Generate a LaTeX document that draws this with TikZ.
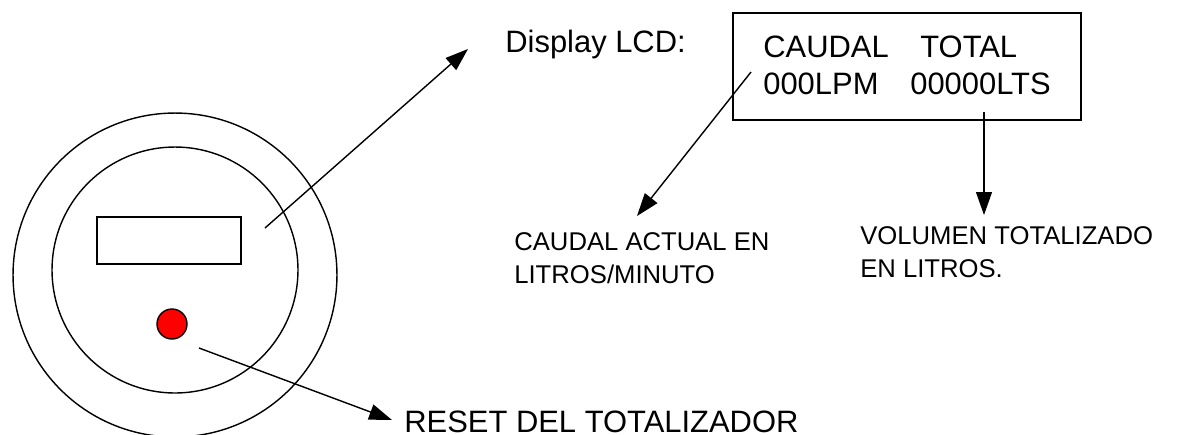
\documentclass[tikz,border=0pt]{standalone}
\usepackage{fontspec}
\setmainfont{Liberation Sans}
\usetikzlibrary{shapes,arrows.meta}

\tikzset{
  part/.style={draw=black,line width=0.8pt,inner sep=0pt,outer sep=0pt},
  big/.style={font=\fontsize{17.6}{21}\selectfont,inner sep=0pt,anchor=base west},
  small/.style={font=\fontsize{14.6}{18.3}\selectfont,inner sep=0pt,align=left,anchor=base west},
  pointer/.style={-{Triangle[length=13pt,width=9pt]},draw=black,line width=0.8pt}
}

\begin{document}
\begin{tikzpicture}[x=0.02cm,y=-0.02cm]
\useasboundingbox (0,0) rectangle (1180,434);
\node[shape=circle,part,minimum size=6.48cm] (outer) at (175,275) {};
\node[shape=circle,part,minimum size=4.92cm] (inner) at (175,270) {};
\node[shape=rectangle,part,minimum width=2.88cm,minimum height=0.94cm] (screen) at (169,240.5) {};
\node[shape=circle,part,fill=red,minimum size=0.6cm] (button) at (172,324) {};

\node[shape=rectangle,part,minimum width=6.96cm,minimum height=2.14cm] (lcd) at (907,66.5) {};
\node[big] (title) at (505,52) {Display LCD:};
\node[big] (caudal) at (763,57) {CAUDAL};
\node[big] (total) at (920,57) {TOTAL};
\node[big] (lpm) at (763,94) {000LPM};
\node[big] (lts) at (910,94) {00000LTS};

\node[small] (actual) at (514,283) {CAUDAL ACTUAL EN\\LITROS/MINUTO};
\node[small] (volumen) at (860,277) {VOLUMEN TOTALIZADO\\EN LITROS.};
\node[big] (reset) at (404,432.5) {RESET DEL TOTALIZADOR};

\coordinate (d0) at (265,228);
\coordinate (d1) at (468,49);
\coordinate (r0) at (199,348);
\coordinate (r1) at (392,420);
\coordinate (c0) at (751,72);
\coordinate (c1) at (637,216);
\coordinate (v0) at (984,112);
\coordinate (v1) at (984,215);

\draw [pointer] (d0) -- (d1);
\draw [pointer] (r0) -- (r1);
\draw [pointer] (c0) -- (c1);
\draw [pointer] (v0) -- (v1);
\end{tikzpicture}
\end{document}
